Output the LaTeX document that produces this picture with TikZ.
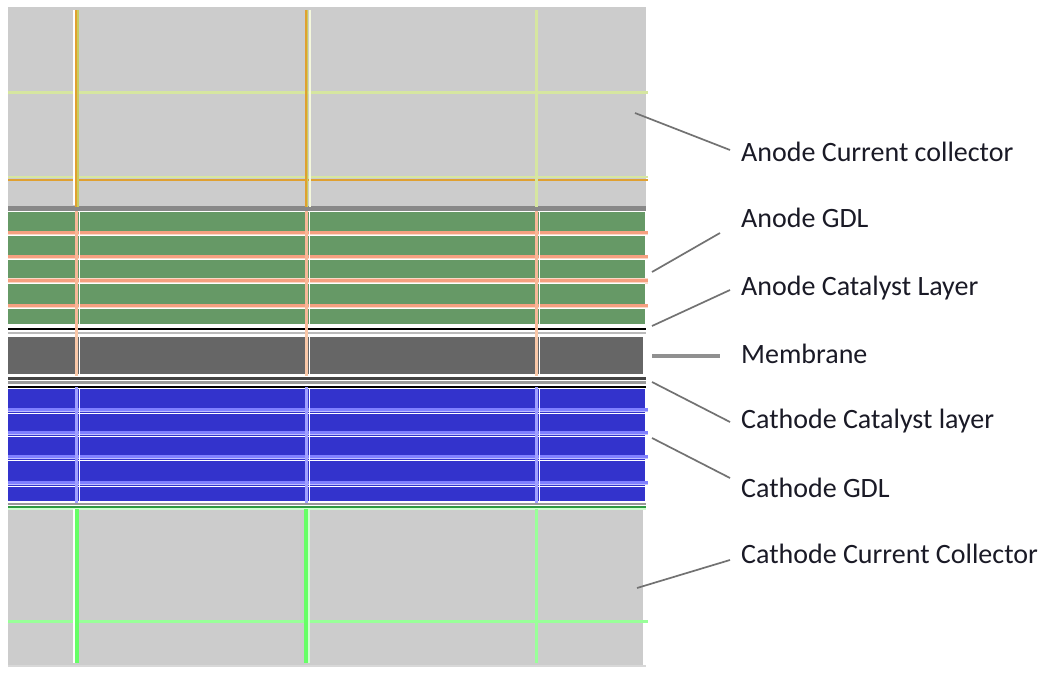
\documentclass[tikz,border=0pt]{standalone}
\usepackage{fontspec}
\setmainfont{Carlito}
\begin{document}
\begin{tikzpicture}[x=1pt,y=-1pt,
  leader/.style={draw=leadergray,line width=1.7pt},
  lbl/.style={anchor=base west,inner sep=0pt,font=\fontsize{28}{30}\selectfont,text=labeltext}]
\definecolor{plate}{HTML}{CCCCCC}
\definecolor{rimgray}{HTML}{888888}
\definecolor{gdlgreen}{HTML}{669966}
\definecolor{memgray}{HTML}{666666}
\definecolor{gdlblue}{HTML}{3333CC}
\definecolor{ygreen}{HTML}{D6E6A0}
\definecolor{cream}{HTML}{F4F8DC}
\definecolor{amber}{HTML}{E0A030}
\definecolor{olive}{HTML}{C8CC60}
\definecolor{salmon}{HTML}{F6A080}
\definecolor{salmonlt}{HTML}{FCD8C6}
\definecolor{salmonv}{HTML}{F8B898}
\definecolor{salmonm}{HTML}{FAC8A8}
\definecolor{bluelt}{HTML}{C0C0FF}
\definecolor{bluemid}{HTML}{8080FF}
\definecolor{bluev}{HTML}{A0A0FF}
\definecolor{lime}{HTML}{66FF66}
\definecolor{limelt}{HTML}{99FF99}
\definecolor{limepale}{HTML}{D0FFD0}
\definecolor{seam}{HTML}{2E9A40}
\definecolor{gray44}{HTML}{444444}
\definecolor{gray9a}{HTML}{9A9A9A}
\definecolor{graybb}{HTML}{BBBBBB}
\definecolor{gray99}{HTML}{999999}
\definecolor{grayd8}{HTML}{D8D8D8}
\definecolor{memlead}{HTML}{909090}
\definecolor{leadergray}{HTML}{727272}
\definecolor{labeltext}{HTML}{1A1A26}
\useasboundingbox (0,0) rectangle (1045,674);
\fill[white] (0,0) rectangle (1045,674);

% ---- layer fills ----
\fill[plate]   (8,7)   rectangle (646,207);
\fill[rimgray] (8,206) rectangle (646,211);
\fill[gdlgreen] (8,212) rectangle (645,324);
\fill[memgray] (8,337) rectangle (643,374);
\fill[gdlblue] (8,389) rectangle (645,501);
\fill[plate]   (8,509) rectangle (643,665);

% ---- horizontal mesh lines ----
% anode current collector
\draw[ygreen,line width=3pt] (8,93) -- (648,93);
\draw[ygreen,line width=2pt] (8,177.5) -- (648,177.5);
\draw[amber,line width=2pt] (8,180) -- (648,180);
% anode GDL
\foreach \yy/\w in {233/4,257/4,281/5.5,306/4}{
  \draw[salmonlt,line width=\w pt] (8,\yy) -- (648,\yy);
  \draw[salmon,line width=2.2pt] (8,\yy-0.5) -- (648,\yy-0.5);
  \draw[white,line width=1pt] (8,\yy+2.8) -- (645,\yy+2.8);
}
% anode catalyst layer
\draw[black,line width=2pt] (8,329) -- (646,329);
\draw[graybb,line width=2pt] (8,333) -- (646,333);
% cathode catalyst layer
\draw[gray44,line width=3pt] (8,378.5) -- (646,378.5);
\draw[gray9a,line width=3pt] (8,382) -- (646,382);
\draw[black,line width=2pt] (8,386.5) -- (646,386.5);
% cathode GDL
\foreach \yy in {410,433,457,483}{
  \draw[bluelt,line width=4.5pt] (8,\yy) -- (648,\yy);
  \draw[bluemid,line width=2.2pt] (8,\yy-0.5) -- (648,\yy-0.5);
  \draw[white,line width=1pt] (8,\yy+3) -- (645,\yy+3);
}
\draw[gray99,line width=2pt] (8,504) -- (646,504);
\draw[seam,line width=2pt] (8,507) -- (646,507);
\draw[limepale,line width=1.2pt] (8,509) -- (646,509);
% cathode current collector
\draw[limelt,line width=3pt] (8,621) -- (648,621);
\draw[grayd8,line width=2pt] (8,666) -- (646,666);

% ---- vertical mesh lines ----
\draw[white,line width=2pt] (73.5,10) -- (73.5,205);
\draw[amber,line width=2pt] (76,10) -- (76,207);
\draw[olive,line width=2pt] (78,10) -- (78,207);
\draw[amber,line width=2pt] (306,10) -- (306,207);
\draw[olive,line width=1.5pt] (307.7,10) -- (307.7,207);
\draw[cream,line width=2pt] (309.5,10) -- (309.5,207);
\draw[ygreen,line width=3pt] (536.5,10) -- (536.5,207);
\foreach \xx in {76.5,306.5,536.5}{
  \draw[salmonv,line width=3.2pt] (\xx,211) -- (\xx,330);
  \draw[salmonm,line width=3.2pt] (\xx,330) -- (\xx,376);
  \draw[white,line width=1.4pt] (\xx+2.8,212) -- (\xx+2.8,326);
  \draw[white,line width=1.4pt] (\xx+2.8,337) -- (\xx+2.8,374);
  \draw[bluev,line width=3.2pt] (\xx,387) -- (\xx,503);
  \draw[white,line width=1.4pt] (\xx+2.8,389) -- (\xx+2.8,501);
}
\draw[white,line width=2pt] (73.5,509) -- (73.5,663);
\draw[lime,line width=3.5pt] (77,509) -- (77,663);
\draw[lime,line width=3.5pt] (305.8,509) -- (305.8,663);
\draw[limepale,line width=2pt] (308.6,509) -- (308.6,663);
\draw[limelt,line width=3pt] (536.5,509) -- (536.5,663);

% ---- labels ----
\node[lbl] (acc)  at (741,162) {Anode Current collector};
\node[lbl] (agdl) at (741,228) {Anode GDL};
\node[lbl] (acl)  at (741,295) {Anode Catalyst Layer};
\node[lbl] (mem)  at (741,363) {Membrane};
\node[lbl] (ccl)  at (741,428) {Cathode Catalyst layer};
\node[lbl] (cgdl) at (741,497) {Cathode GDL};
\node[lbl] (ccc)  at (741,563) {Cathode Current Collector};

% ---- leader lines ----
\coordinate (accA)  at (635,113); \coordinate (accB)  at (730,150);
\coordinate (agdlA) at (652,272); \coordinate (agdlB) at (720,233);
\coordinate (aclA)  at (652,326); \coordinate (aclB)  at (730,290);
\coordinate (memA)  at (652,356); \coordinate (memB)  at (720,356);
\coordinate (cclA)  at (652,382); \coordinate (cclB)  at (730,422);
\coordinate (cgdlA) at (652,438); \coordinate (cgdlB) at (730,478);
\coordinate (cccA)  at (637,588); \coordinate (cccB)  at (730,560);
\draw[leader] (accA) -- (accB);
\draw[leader] (agdlA) -- (agdlB);
\draw[leader] (aclA) -- (aclB);
\draw[memlead,line width=4.5pt] (memA) -- (memB);
\draw[leader] (cclA) -- (cclB);
\draw[leader] (cgdlA) -- (cgdlB);
\draw[leader] (cccA) -- (cccB);
\end{tikzpicture}
\end{document}
